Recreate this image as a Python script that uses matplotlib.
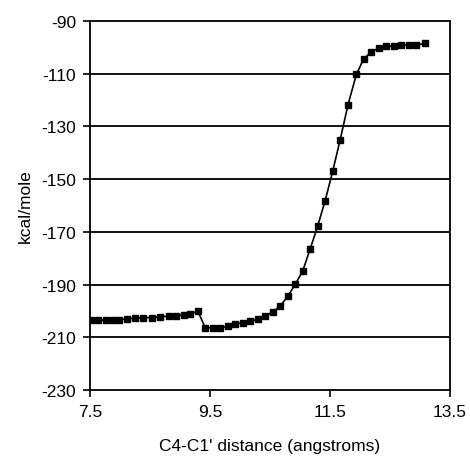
#!/usr/bin/env python3
import matplotlib
matplotlib.use('Agg')
import matplotlib.pyplot as plt

plt.rcParams['font.family'] = ['Liberation Sans', 'DejaVu Sans']

# distance (angstroms) and energy (kcal/mole)
distance = [7.52, 7.63, 7.76, 7.89, 7.99, 8.11, 8.25, 8.39, 8.53, 8.67, 8.81,
            8.94, 9.06, 9.17, 9.30,
            9.42, 9.545, 9.67, 9.795, 9.92, 10.045, 10.17, 10.295, 10.42,
            10.545, 10.67, 10.795, 10.92, 11.045,
            11.17, 11.295, 11.42, 11.545, 11.67, 11.80, 11.94, 12.06, 12.19,
            12.31, 12.44, 12.56, 12.69, 12.81, 12.94, 13.08]
energy = [-203.5, -203.5, -203.5, -203.4, -203.3, -203.0, -202.8, -202.6,
          -202.5, -202.2, -202.0, -201.8, -201.5, -201.0, -200.2,
          -206.3, -206.3, -206.3, -205.9, -205.0, -204.4, -203.8, -203.1,
          -201.9, -200.4, -198.1, -194.5, -189.9, -184.9,
          -176.4, -167.8, -158.1, -147.0, -135.0, -121.8, -110.2, -104.4,
          -101.6, -100.3, -99.5, -99.5, -99.1, -99.1, -99.0, -98.5]

x_ticks = [7.5, 9.5, 11.5, 13.5]
y_ticks = [-230, -210, -190, -170, -150, -130, -110, -90]


def create_plot():
    fig = plt.figure(figsize=(4.7, 4.6), dpi=100)
    ax = fig.add_axes([0.1915, 0.15, 0.7659, 0.802])

    for yv in y_ticks[1:-1]:
        ax.axhline(yv, color='black', linewidth=1.3, zorder=1)

    ax.plot(distance, energy, color='black', linewidth=1.2,
            marker='s', markersize=4.0, zorder=3)

    ax.set_xlim(7.5, 13.5)
    ax.set_ylim(-230, -90)
    ax.set_xticks(x_ticks)
    ax.set_xticklabels([f'{t:.1f}' for t in x_ticks])
    ax.set_yticks(y_ticks)
    ax.set_yticklabels([str(t) for t in y_ticks])
    ax.tick_params(direction='out', length=5, width=1.2, labelsize=12.5,
                   colors='black', pad=5)
    for sp in ax.spines.values():
        sp.set_linewidth(1.3)
        sp.set_color('black')

    ax.set_xlabel("C4-C1' distance (angstroms)", fontsize=12.5, labelpad=14)
    ax.set_ylabel('kcal/mole', fontsize=12.5, labelpad=6)

    fig.savefig('out.png', dpi=100)
    plt.close(fig)


if __name__ == "__main__":
    create_plot()
